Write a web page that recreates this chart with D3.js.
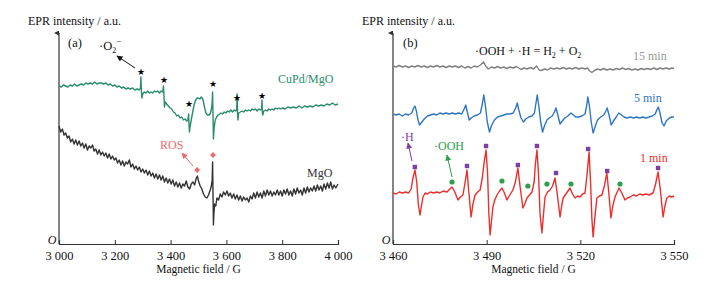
<!DOCTYPE html>
<html><head><meta charset="utf-8">
<script src="https://cdn.jsdelivr.net/npm/d3@7"></script>
<style>
body{margin:0;background:#fff;}
text{font-family:"Liberation Serif","Times New Roman",serif;}
</style></head>
<body><svg id="c" width="706" height="282"></svg>
<script>
// ---------- DATA ----------
const leftTicks = [3000,3200,3400,3600,3800,4000];
const leftTickLabels = ["3 000","3 200","3 400","3 600","3 800","4 000"];
const rightTicks = [3460,3490,3520,3550];
const rightTickLabels = ["3 460","3 490","3 520","3 550"];

// Panel (a): CuPd/MgO  [field G, intensity a.u.]
const cupdMgO = [[3000,158],[3008,157],[3016,159],[3024,158],[3032,157],[3040,159],[3048,158],[3056,160],[3064,158],[3072,159],[3080,160],[3088,159],[3096,161],[3104,160],[3112,161],[3120,160],[3128,162],[3136,160],[3144,161],[3152,161],[3160,160],[3168,161],[3176,159],[3184,160],[3192,158],[3200,159],[3208,157],[3216,158],[3224,156],[3232,157],[3240,155],[3248,156],[3256,155],[3264,156],[3272,154],[3280,155],[3288,154],[3292,156],[3293.5,167],[3295,155],[3297,146],[3300,150],[3306,152],[3312,151],[3318,153],[3324,151],[3330,152],[3336,151],[3342,153],[3348,152],[3354,153],[3360,151],[3366,153],[3372,152],[3374.5,158],[3376,150],[3378,137],[3381,142],[3386,140],[3392,138],[3398,136],[3404,135],[3410,132],[3416,131],[3422,128],[3428,129],[3434,126],[3440,127],[3446,124],[3452,125],[3458,123],[3462,124],[3464.5,130],[3466,120],[3467.5,112],[3470,118],[3474,124],[3478,130],[3482,136],[3486,141],[3490,144],[3495,146],[3500,146],[3505,145],[3510,147],[3514,146],[3518,142],[3522,136],[3527,131],[3532,129],[3538,129],[3543,131],[3547,136],[3549,142],[3550.5,152],[3552,130],[3553.5,105],[3556,116],[3560,124],[3565,127],[3570,129],[3575,130],[3580,131],[3586,130],[3592,132],[3598,131],[3604,133],[3610,132],[3616,134],[3622,132],[3628,134],[3634,133],[3637,135],[3638.5,150],[3640,130],[3641.5,124],[3644,131],[3650,132],[3656,133],[3662,132],[3668,134],[3674,133],[3680,134],[3686,133],[3692,135],[3698,134],[3704,135],[3710,133],[3716,135],[3722,134],[3726,135],[3727.5,144],[3729,131],[3730.5,129],[3734,133],[3740,134],[3746,133],[3752,135],[3758,134],[3764,135],[3770,134],[3776,136],[3782,135],[3788,136],[3794,135],[3800,136],[3810,135],[3820,137],[3830,136],[3840,137],[3850,136],[3860,138],[3870,136],[3880,138],[3890,137],[3900,138],[3910,137],[3920,139],[3930,138],[3940,139],[3950,138],[3960,140],[3970,139],[3980,141],[3990,139],[4000,140]];

// Panel (a): MgO
const mgO = [[3000,118],[3006,112],[3012,115],[3018,109],[3024,111],[3030,106],[3036,108],[3042,102],[3048,105],[3054,100],[3060,104],[3066,99],[3072,103],[3078,98],[3084,101],[3090,96],[3096,100],[3102,94],[3108,98],[3114,96],[3120,99],[3126,93],[3132,95],[3138,90],[3144,94],[3150,89],[3156,92],[3162,88],[3168,91],[3174,86],[3180,90],[3186,85],[3192,88],[3198,84],[3204,86],[3210,81],[3216,84],[3222,79],[3228,83],[3234,78],[3240,82],[3246,80],[3252,84],[3258,77],[3264,80],[3270,75],[3276,78],[3282,74],[3288,77],[3294,72],[3300,75],[3306,71],[3312,74],[3318,69],[3324,73],[3330,68],[3336,71],[3342,66],[3348,70],[3354,65],[3360,69],[3366,64],[3372,68],[3378,62],[3384,66],[3390,61],[3396,65],[3402,60],[3408,64],[3414,58],[3420,62],[3426,57],[3432,61],[3438,56],[3444,60],[3450,58],[3456,63],[3462,57],[3468,55],[3474,60],[3480,62],[3486,59],[3492,66],[3496,68],[3500,63],[3506,58],[3512,55],[3518,50],[3524,47],[3530,46],[3536,49],[3542,54],[3546,58],[3549,64],[3550.5,82],[3552,50],[3553.5,19],[3555,30],[3558,40],[3562,38],[3566,46],[3572,44],[3578,50],[3584,47],[3590,52],[3596,49],[3602,53],[3608,48],[3614,51],[3620,46],[3626,50],[3632,45],[3638,49],[3644,44],[3650,48],[3656,43],[3662,47],[3668,44],[3674,46],[3680,42],[3686,48],[3692,45],[3698,51],[3704,46],[3710,52],[3716,47],[3722,51],[3728,46],[3734,53],[3740,48],[3746,54],[3752,49],[3758,53],[3764,48],[3770,52],[3776,49],[3782,54],[3788,49],[3794,53],[3800,48],[3806,54],[3812,50],[3818,55],[3824,49],[3830,53],[3836,48],[3842,55],[3848,50],[3854,56],[3860,51],[3866,54],[3872,49],[3878,56],[3884,51],[3890,57],[3896,52],[3902,56],[3908,53],[3914,58],[3920,53],[3926,59],[3932,54],[3938,58],[3944,53],[3950,60],[3956,55],[3962,61],[3968,56],[3974,62],[3980,55],[3986,59],[3992,56],[4000,60]];

const starFields = [3294,3376,3466,3552,3638,3728];
const starLevels = [173,165,141,161,147,149];
const rosFields = [3495,3552];
const rosLevels = [74,89];

// Panel (b)
const min15 = [[3460,178],[3461,177],[3462,178.5],[3463,177],[3464,178],[3465,176.5],[3466,178],[3467,177],[3468,178.5],[3469,177],[3470,178],[3471,176.5],[3472,178],[3473,177],[3474,178.5],[3475,177],[3476,178],[3477,176.5],[3478,178],[3479,177],[3480,178],[3481,176.5],[3482,178],[3483,176],[3484,177.5],[3485,176],[3486,178],[3487,177],[3488,179],[3489,182],[3489.7,178],[3490.5,175],[3491.5,177],[3492.5,176],[3493.5,177.5],[3494.5,176],[3495.5,177],[3496.5,175.5],[3497.5,177],[3498.5,176],[3499.5,177.5],[3500.3,176],[3501,174.5],[3502,176],[3503,175],[3504,176.5],[3505,175],[3506,178],[3506.8,174],[3507.5,173.5],[3508.5,175],[3509.5,174],[3510.5,176],[3511.5,175],[3512.5,176],[3513.5,175],[3514.5,176.5],[3515.5,175],[3516.5,176],[3517.5,175],[3518.5,176.5],[3519.5,175],[3520.5,176],[3521.5,175],[3522.3,176],[3523,173],[3523.7,171.5],[3524.5,173.5],[3525.5,175],[3526.5,174],[3527.5,175.5],[3528.5,174],[3529.5,175],[3530.5,174],[3531.5,175.5],[3532.5,174.5],[3533.5,176],[3534.5,174.5],[3535.5,175.5],[3536.5,174],[3537.5,175],[3538.5,174],[3539.5,175.5],[3540.5,174.5],[3541.5,175.5],[3542.5,174.5],[3543.5,176],[3544.5,174.5],[3545.5,176],[3546.5,175],[3547.5,176],[3548.5,175],[3549.3,176],[3550,175.5]];

const min5 = [[3460,130],[3461,129],[3462,130],[3463,128],[3464,130],[3465,129],[3466,131],[3466.6,136],[3467,138],[3467.5,133],[3468,124],[3468.5,119],[3469,121],[3470,125],[3471,128],[3472,129],[3473,130],[3474,129],[3475,131],[3476,130],[3477,131],[3478,130],[3479,131],[3480,130],[3481,131],[3482,130],[3482.8,135],[3483.3,139],[3483.8,132],[3484.4,124],[3485,126],[3486,128],[3487,129],[3488,131],[3488.6,140],[3489.1,149],[3489.6,138],[3490.2,122],[3490.9,112],[3491.5,118],[3492.5,124],[3493.5,127],[3494.5,128],[3495.5,129],[3496.5,130],[3497.5,130],[3498.5,131],[3499.3,136],[3499.8,141],[3500.3,134],[3501,126],[3501.8,122],[3502.5,125],[3503.5,127],[3504.5,128],[3505.3,131],[3505.8,141],[3506.2,149],[3506.7,138],[3507.3,122],[3507.9,112],[3508.5,118],[3509.3,124],[3510,126],[3511,128],[3511.7,132],[3512.2,136],[3512.8,129],[3513.5,120],[3514.2,123],[3515,126],[3516,128],[3517,131],[3517.8,129],[3518.5,127],[3519.5,127],[3520.5,128],[3521.5,130],[3522,138],[3522.4,147],[3522.9,138],[3523.5,122],[3524.1,111],[3524.8,118],[3525.5,124],[3526.5,127],[3527.5,129],[3528.2,133],[3528.6,136],[3529.2,129],[3529.9,119],[3530.6,123],[3531.5,127],[3532.3,131],[3533.2,129],[3534,127],[3535,126],[3536,127],[3537,126],[3538,127],[3539,126],[3540,127],[3541,126],[3542,127],[3543,128],[3544,130],[3544.6,135],[3545,137],[3545.5,131],[3546.2,121],[3546.8,118],[3547.5,123],[3548.5,126],[3549.3,127],[3550,127]];

const min1 = [[3460,51],[3461,50],[3462,52],[3463,51],[3464,52],[3465,51],[3465.8,55],[3466.4,66],[3467.05,74],[3467.6,62],[3468.1,40],[3468.65,29],[3469.1,38],[3469.6,47],[3470.3,51],[3471,50],[3472,52],[3473,51],[3474,52],[3475,51],[3476,53],[3477.3,52],[3478.2,55],[3478.9,57],[3479.8,52],[3480.8,44],[3481.6,47],[3482.4,49],[3483,60],[3483.7,74],[3484.2,55],[3485,27],[3485.6,40],[3486.3,49],[3487.1,52],[3487.9,54],[3488.6,66],[3489.2,82],[3489.8,94],[3490.3,70],[3490.7,30],[3491.1,9],[3491.5,22],[3492,37],[3492.6,44],[3493.3,49],[3494.1,53],[3494.9,56],[3495.7,51],[3496.5,44],[3497.4,49],[3498.4,54],[3499.2,62],[3500,76],[3500.6,60],[3501.6,36],[3502.2,40],[3502.9,46],[3503.7,49],[3504.5,52],[3505.2,62],[3505.6,80],[3506.1,94],[3506.6,70],[3507.1,30],[3507.7,11],[3508.2,30],[3508.7,47],[3509.5,52],[3510.3,54],[3511.1,58],[3511.9,66],[3512.6,50],[3513.5,27],[3514,38],[3514.5,46],[3515.6,51],[3516.7,56],[3517.5,50],[3518.3,46],[3519.1,48],[3519.9,47],[3520.7,50],[3521.5,51],[3522.1,68],[3522.8,92],[3523.3,60],[3523.7,25],[3524.1,7],[3524.6,25],[3525.3,46],[3526.1,48],[3526.9,49],[3527.7,58],[3528.5,71],[3529.1,52],[3529.8,26],[3530.4,38],[3531.1,47],[3531.8,52],[3532.4,56],[3533.3,51],[3534.3,44],[3535.1,46],[3535.9,47],[3537,49],[3538,48],[3539,50],[3540,49],[3541,50],[3542,49],[3543.3,51],[3544.1,60],[3544.9,72],[3545.6,55],[3546.5,27],[3547.1,38],[3547.7,46],[3548.5,48],[3549.3,47],[3550,48]];

const hFields = [3467.0,3483.7,3489.8,3500.0,3506.1,3512.2,3522.5,3528.6,3544.9];
const hLevels = [77,78,98,79,98,71,95,73,76];
const oohFields = [3478.9,3494.9,3503.2,3509.3,3517.0,3532.7];
const oohLevels = [62,63,58,60,60,60];

// ---------- DRAW ----------
const svg = d3.select("#c");
const axisColor = "#333";
const xa = d3.scaleLinear().domain([3000,4000]).range([59,338]);
const xb = d3.scaleLinear().domain([3460,3550]).range([393,674]);
const y = d3.scaleLinear().domain([0,212]).range([244,32]);

const defs = svg.append("defs");
defs.append("marker").attr("id","ax").attr("viewBox","0 0 10 10").attr("refX",5).attr("refY",10)
  .attr("markerWidth",5).attr("markerHeight",7).attr("orient","auto-start-reverse")
  .attr("markerUnits","userSpaceOnUse");
defs.select("#ax").append("path").attr("d","M0,10 L5,0 L10,10 Z").attr("fill",axisColor);
function arrowMarker(id,color){
  const m = defs.append("marker").attr("id",id).attr("viewBox","0 0 10 10").attr("refX",9).attr("refY",5)
    .attr("markerWidth",7).attr("markerHeight",6).attr("orient","auto").attr("markerUnits","userSpaceOnUse");
  m.append("path").attr("d","M0,0 L10,5 L0,10 Z").attr("fill",color);
}
arrowMarker("aBlack","#111");
arrowMarker("aRos","#f06a6a");
arrowMarker("aH","#7b3fa6");
arrowMarker("aOOH","#2ca04a");

function panel(x, ticks, labels){
  const ax = d3.axisBottom(x).tickValues(ticks).tickSize(-4).tickPadding(7)
    .tickFormat((d,i)=>labels[i]);
  const g = svg.append("g").attr("transform","translate(0,244)").call(ax);
  g.select(".domain").attr("stroke",axisColor).attr("stroke-width",1.2);
  g.selectAll(".tick line").attr("stroke",axisColor).attr("stroke-width",1);
  g.selectAll(".tick text").attr("font-family","Liberation Serif").attr("font-size",12.5).attr("fill","#111");
  // y axis
  svg.append("line").attr("x1",x.range()[0]).attr("x2",x.range()[0]).attr("y1",244).attr("y2",y(212)+1)
    .attr("stroke",axisColor).attr("stroke-width",1.2).attr("marker-end","url(#ax)");
  svg.append("text").attr("x",x.range()[0]-7).attr("y",244).attr("text-anchor","middle")
    .attr("font-style","italic").attr("font-size",12).attr("fill","#111").text("O");
  svg.append("text").attr("x",(x.range()[0]+x.range()[1])/2).attr("y",273).attr("text-anchor","middle")
    .attr("font-size",11.5).attr("fill","#111").text("Magnetic field / G");
  svg.append("text").attr("x",x.range()[0]-31).attr("y",25)
    .attr("font-size",12).attr("fill","#111").text("EPR intensity / a.u.");
}
panel(xa,leftTicks,leftTickLabels);
panel(xb,rightTicks,rightTickLabels);

function curve(x,data,color,w){
  const line = d3.line().x(d=>x(d[0])).y(d=>y(d[1]));
  svg.append("path").datum(data).attr("d",line).attr("fill","none")
    .attr("stroke",color).attr("stroke-width",w).attr("stroke-linejoin","round");
}
const green="#2a8c68", black="#333333", red="#ee2d2d", blue="#2f76c4", gray="#808080";
curve(xa,cupdMgO,green,1.4);
curve(xa,mgO,black,1.4);
curve(xb,min15,gray,1.4);
curve(xb,min5,blue,1.4);
curve(xb,min1,red,1.4);

// stars
svg.selectAll(".star").data(starFields).enter().append("text")
  .attr("x",d=>xa(d)).attr("y",(d,i)=>y(starLevels[i])+3.5).attr("text-anchor","middle")
  .attr("font-family","DejaVu Sans").attr("font-size",9).attr("fill","#000").text("★");
// ROS diamonds
svg.selectAll(".ros").data(rosFields).enter().append("path")
  .attr("transform",(d,i)=>`translate(${xa(d)},${y(rosLevels[i])})`)
  .attr("d",d3.symbol().type(d3.symbolDiamond2).size(22)).attr("fill","#f06a6a");
// squares & dots
svg.selectAll(".hs").data(hFields).enter().append("rect")
  .attr("x",d=>xb(d)-2.2).attr("y",(d,i)=>y(hLevels[i])-2.2).attr("width",4.4).attr("height",4.4).attr("fill","#7b3fa6");
svg.selectAll(".oo").data(oohFields).enter().append("circle")
  .attr("cx",d=>xb(d)).attr("cy",(d,i)=>y(oohLevels[i])).attr("r",2.6).attr("fill","#2ca04a");

// annotations panel (a)
svg.append("text").attr("x",68).attr("y",47).attr("font-size",12.5).attr("fill","#111").text("(a)");
const o2 = svg.append("text").attr("x",99).attr("y",50).attr("font-size",12.5).attr("fill","#111");
o2.append("tspan").text("·O");
o2.append("tspan").attr("font-size",8).attr("dy",3).text("2");
o2.append("tspan").attr("font-size",9).attr("dy",-9).text("−");
svg.append("line").attr("x1",135).attr("y1",68).attr("x2",117).attr("y2",56)
  .attr("stroke","#111").attr("stroke-width",1).attr("marker-end","url(#aBlack)");
svg.append("text").attr("x",278).attr("y",83).attr("font-size",12).attr("fill",green).text("CuPd/MgO");
svg.append("text").attr("x",160).attr("y",149).attr("font-size",12).attr("fill","#f06a6a").text("ROS");
svg.append("line").attr("x1",193).attr("y1",166).attr("x2",182).attr("y2",153)
  .attr("stroke","#f06a6a").attr("stroke-width",1).attr("marker-end","url(#aRos)");
svg.append("text").attr("x",307).attr("y",177).attr("font-size",12).attr("fill","#333").text("MgO");

// annotations panel (b)
svg.append("text").attr("x",403).attr("y",47).attr("font-size",12.5).attr("fill","#111").text("(b)");
const eq = svg.append("text").attr("x",475).attr("y",55).attr("font-size",12).attr("fill","#111");
eq.append("tspan").text("·OOH + ·H = H");
eq.append("tspan").attr("font-size",8).attr("dy",3).text("2");
eq.append("tspan").attr("dy",-3).text(" + O");
eq.append("tspan").attr("font-size",8).attr("dy",3).text("2");
svg.append("text").attr("x",633).attr("y",60).attr("font-size",12).attr("fill","#999").text("15 min");
svg.append("text").attr("x",634).attr("y",102).attr("font-size",12).attr("fill",blue).text("5 min");
svg.append("text").attr("x",640).attr("y",162).attr("font-size",12).attr("fill",red).text("1 min");
svg.append("text").attr("x",401).attr("y",141).attr("font-size",12).attr("fill","#7b3fa6").text("·H");
svg.append("line").attr("x1",412).attr("y1",161).attr("x2",408).attr("y2",143)
  .attr("stroke","#7b3fa6").attr("stroke-width",1).attr("marker-end","url(#aH)");
svg.append("text").attr("x",434).attr("y",150).attr("font-size",12).attr("fill","#2ca04a").text("·OOH");
svg.append("line").attr("x1",452).attr("y1",177).attr("x2",447).attr("y2",155)
  .attr("stroke","#2ca04a").attr("stroke-width",1).attr("marker-end","url(#aOOH)");
</script></body></html>
